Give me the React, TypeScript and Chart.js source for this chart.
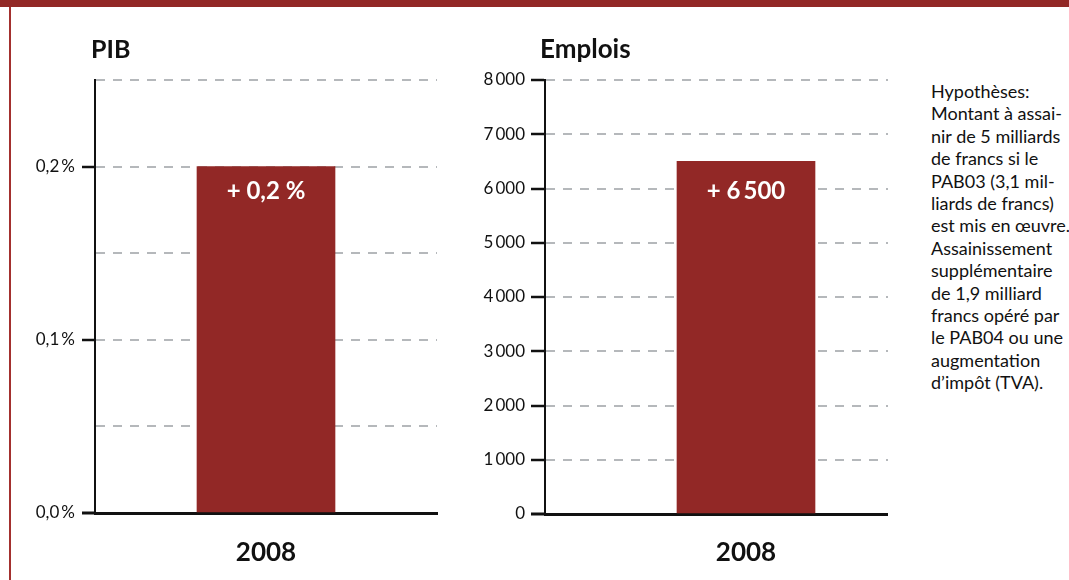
import React, { useEffect, useRef } from 'react';
import { Chart, registerables } from 'chart.js';

Chart.register(...registerables);

const categories = ['2008'];

const pibValues = [0.2];
const pibValueLabels = ['+ 0,2 %'];
const pibTickLabels = ['0,0\u2009%', '', '0,1\u2009%', '', '0,2\u2009%', ''];
const pibMax = 0.25;
const pibStep = 0.05;

const emploisValues = [6500];
const emploisValueLabels = ['+ 6\u2009500'];
const emploisTickLabels = ['0', '1\u2009000', '2\u2009000', '3\u2009000', '4\u2009000', '5\u2009000', '6\u2009000', '7\u2009000', '8\u2009000'];
const emploisMax = 8000;
const emploisStep = 1000;

const noteLines = [
  'Hypothèses:',
  'Montant à assai-',
  'nir de 5 milliards',
  'de francs si le',
  'PAB03 (3,1 mil-',
  'liards de francs)',
  'est mis en œuvre.',
  'Assainissement',
  'supplémentaire',
  'de 1,9 milliard',
  'francs opéré par',
  'le PAB04 ou une',
  'augmentation',
  'd’impôt (TVA).',
];

const RED = '#922826';
const GRID = '#b5b8bb';
const INK = '#111111';
const FONT = 'Lato, "Noto Sans", "DejaVu Sans", sans-serif';

const valueLabelPlugin = {
  id: 'valueLabels',
  afterDatasetsDraw(chart: any, _args: any, opts: any) {
    const meta = chart.getDatasetMeta(0);
    const ctx = chart.ctx;
    ctx.save();
    ctx.fillStyle = '#ffffff';
    ctx.font = `bold 24px ${FONT}`;
    ctx.textAlign = 'center';
    ctx.textBaseline = 'middle';
    meta.data.forEach((bar: any, i: number) => {
      ctx.fillText(opts.labels[i], bar.x, bar.y + opts.offset);
    });
    ctx.restore();
  },
};

type Cfg = {
  values: number[];
  valueLabels: string[];
  tickLabels: string[];
  max: number;
  step: number;
  yWidth: number;
  xHeight: number;
  padding: { top: number; right: number; left: number; bottom: number };
  tickLength: number;
  tickPadding: number;
  labelOffset: number;
  xPadding: number;
  barThickness: number;
};

function makeConfig(c: Cfg): any {
  return {
    type: 'bar',
    data: {
      labels: categories,
      datasets: [
        {
          data: c.values,
          backgroundColor: RED,
          borderWidth: 0,
          barThickness: c.barThickness,
        },
      ],
    },
    plugins: [valueLabelPlugin],
    options: {
      responsive: false,
      animation: false,
      events: [],
      layout: { padding: c.padding },
      plugins: {
        legend: { display: false },
        tooltip: { enabled: false },
        title: { display: false },
        valueLabels: { labels: c.valueLabels, offset: c.labelOffset },
      },
      scales: {
        x: {
          grid: { display: false, drawTicks: false },
          border: { display: true, color: INK, width: 3 },
          ticks: {
            color: INK,
            padding: c.xPadding,
            font: { family: FONT, size: 26, weight: 'bold' },
          },
          afterFit: (scale: any) => {
            scale.height = c.xHeight;
          },
        },
        y: {
          min: 0,
          max: c.max,
          ticks: {
            stepSize: c.step,
            color: INK,
            padding: c.tickPadding,
            font: { family: FONT, size: 17 },
            callback: (_v: any, i: number) => c.tickLabels[i] ?? '',
          },
          grid: {
            color: (ctx: any) => (ctx.index === 0 ? 'rgba(0,0,0,0)' : GRID),
            lineWidth: 2,
            tickLength: c.tickLength,
            tickWidth: (ctx: any) => (ctx.index === 0 ? 3 : 2.5),
            tickColor: (ctx: any) => (c.tickLabels[ctx.index] ? INK : 'rgba(0,0,0,0)'),
          },
          border: { display: true, color: INK, width: 2, dash: [9, 8] },
          afterFit: (scale: any) => {
            scale.width = c.yWidth;
          },
        },
      },
    },
  };
}

function BarChart({ cfg, width, height }: { cfg: Cfg; width: number; height: number }) {
  const ref = useRef<HTMLCanvasElement | null>(null);
  useEffect(() => {
    if (!ref.current) return;
    const chart = new Chart(ref.current, makeConfig(cfg));
    return () => chart.destroy();
  }, []);
  return <canvas ref={ref} width={width} height={height} style={{ width, height, display: 'block' }} />;
}

const pibCfg: Cfg = {
  values: pibValues,
  valueLabels: pibValueLabels,
  tickLabels: pibTickLabels,
  max: pibMax,
  step: pibStep,
  yWidth: 75,
  xHeight: 67,
  padding: { top: 20, right: 3, left: 0, bottom: 0 },
  tickLength: 13,
  tickPadding: 7,
  labelOffset: 25,
  xPadding: 24,
  barThickness: 138,
};

const emploisCfg: Cfg = {
  values: emploisValues,
  valueLabels: emploisValueLabels,
  tickLabels: emploisTickLabels,
  max: emploisMax,
  step: emploisStep,
  yWidth: 85,
  xHeight: 66,
  padding: { top: 20, right: 113, left: 0, bottom: 0 },
  tickLength: 14,
  tickPadding: 6,
  labelOffset: 30,
  xPadding: 23,
  barThickness: 138,
};

export default function App() {
  return (
    <div
      style={{
        position: 'fixed',
        left: 0,
        top: 0,
        width: 1069,
        height: 580,
        background: '#ffffff',
        overflow: 'hidden',
        fontFamily: FONT,
      }}
    >
      <div style={{ position: 'absolute', left: 0, top: 0, width: 1069, height: 7, background: RED }} />
      <div style={{ position: 'absolute', left: 9, top: 7, width: 2, height: 573, background: '#a3302e' }} />

      <div style={{ position: 'absolute', left: 20, top: 60 }}>
        <BarChart cfg={pibCfg} width={420} height={520} />
      </div>
      <div style={{ position: 'absolute', left: 460, top: 60 }}>
        <BarChart cfg={emploisCfg} width={600} height={520} />
      </div>

      <div
        style={{
          position: 'absolute',
          left: 91,
          top: 31,
          fontSize: 25,
          fontWeight: 'bold',
          color: INK,
          lineHeight: '34px',
        }}
      >
        PIB
      </div>
      <div
        style={{
          position: 'absolute',
          left: 540,
          top: 31,
          fontSize: 26,
          fontWeight: 'bold',
          color: INK,
          lineHeight: '34px',
        }}
      >
        Emplois
      </div>

      <div
        style={{
          position: 'absolute',
          left: 888,
          top: 60,
          width: 181,
          height: 470,
          background: '#ffffff',
        }}
      >
        <div
          style={{
            position: 'absolute',
            left: 43,
            top: 20,
            fontSize: 18,
            lineHeight: '22.4px',
            color: INK,
            whiteSpace: 'nowrap',
          }}
        >
          {noteLines.map((l, i) => (
            <div key={i}>{l}</div>
          ))}
        </div>
      </div>
    </div>
  );
}
